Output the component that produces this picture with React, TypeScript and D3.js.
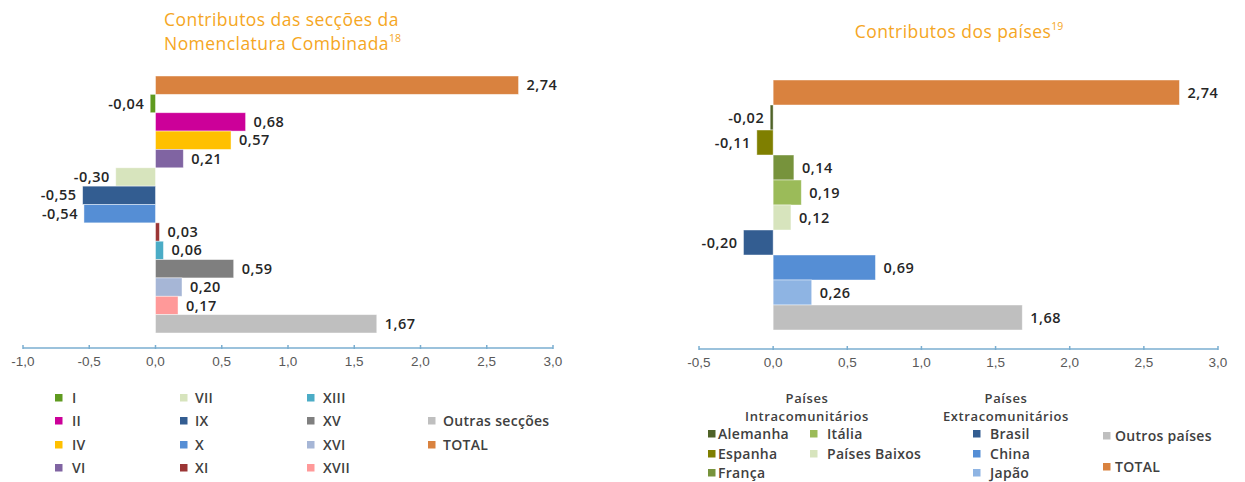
import React from "react";
import * as d3 from "d3";

// ---------- Data ----------
const LEFT_CATEGORIES = ["TOTAL", "I", "II", "IV", "VI", "VII", "IX", "X", "XI", "XIII", "XV", "XVI", "XVII", "Outras secções"];
const LEFT_VALUES = [2.74, -0.04, 0.68, 0.57, 0.21, -0.30, -0.55, -0.54, 0.03, 0.06, 0.59, 0.20, 0.17, 1.67];
const LEFT_COLORS = ["#d9823f", "#5f9a1f", "#cc0099", "#ffc000", "#8064a2", "#d7e4bd", "#335d91", "#558ed5", "#9b3535", "#4bacc6", "#7f7f7f", "#a6b6d6", "#ff9999", "#bfbfbf"];
const LEFT_TICKS = [-1.0, -0.5, 0.0, 0.5, 1.0, 1.5, 2.0, 2.5, 3.0];
// legend columns (names, column-major)
const LEFT_LEGEND_COLS = [
  ["I", "II", "IV", "VI"],
  ["VII", "IX", "X", "XI"],
  ["XIII", "XV", "XVI", "XVII"],
  ["", "Outras secções", "TOTAL", ""],
];

const RIGHT_CATEGORIES = ["TOTAL", "Alemanha", "Espanha", "França", "Itália", "Países Baixos", "Brasil", "China", "Japão", "Outros países"];
const RIGHT_VALUES = [2.74, -0.02, -0.11, 0.14, 0.19, 0.12, -0.20, 0.69, 0.26, 1.68];
const RIGHT_COLORS = ["#d9823f", "#4f6228", "#7f7f00", "#77933c", "#9bbb59", "#d7e4bd", "#335d91", "#558ed5", "#8eb4e3", "#bfbfbf"];
const RIGHT_TICKS = [-0.5, 0.0, 0.5, 1.0, 1.5, 2.0, 2.5, 3.0];
const RIGHT_GROUPS = ["Países Intracomunitários", "Países Extracomunitários"];
const RIGHT_LEGEND_COLS = [
  ["Alemanha", "Espanha", "França"],
  ["Itália", "Países Baixos"],
  ["Brasil", "China", "Japão"],
  ["Outros países", "TOTAL"],
];

const TITLE_LEFT = ["Contributos das secções da", "Nomenclatura Combinada"];
const TITLE_LEFT_SUP = "18";
const TITLE_RIGHT = "Contributos dos países";
const TITLE_RIGHT_SUP = "19";

// ---------- Styles ----------
const W = 1245;
const H = 482;
const TITLE_COLOR = "#f5a623";
const LABEL_COLOR = "#262626";
const LEGEND_COLOR = "#404040";
const AXIS_COLOR = "#7aaed0";
const TICK_COLOR = "#595959";
const LABEL_FONT = "'Open Sans', 'Noto Sans', sans-serif";
const TICK_FONT = "'Liberation Sans', Arial, sans-serif";

const fmtVal = (v: number) => d3.format(".2f")(v).replace("−", "-").replace(".", ",");
const fmtTick = (v: number) => d3.format(".1f")(v).replace("−", "-").replace(".", ",");

type PanelProps = {
  cats: string[];
  values: number[];
  colors: string[];
  ticks: number[];
  xRange: [number, number];
  yRange: [number, number];
  axisY: number;
};

function Panel({ cats, values, colors, ticks, xRange, yRange, axisY }: PanelProps) {
  const x = d3.scaleLinear().domain([ticks[0], ticks[ticks.length - 1]]).range(xRange);
  const y = d3.scaleBand<string>().domain(cats).range(yRange).padding(0);
  const x0 = x(0);
  return (
    <g>
      {cats.map((c, i) => {
        const v = values[i];
        const xa = Math.min(x(v), x0);
        const w = Math.abs(x(v) - x0);
        const yy = y(c)!;
        const bh = y.bandwidth();
        return (
          <g key={c}>
            <rect x={xa} y={yy} width={Math.max(w, 1.5)} height={bh} fill={colors[i]} stroke="#ffffff" strokeOpacity={0.55} strokeWidth={0.8} />
            <text
              x={v >= 0 ? x(v) + 8 : x(v) - 6}
              y={yy + bh / 2}
              dy="0.35em"
              textAnchor={v >= 0 ? "start" : "end"}
              fontFamily={LABEL_FONT}
              fontWeight={600}
              fontSize={14.5}
              letterSpacing={0.5}
              fill={LABEL_COLOR}
            >
              {fmtVal(v)}
            </text>
          </g>
        );
      })}
      <line x1={x(ticks[0])} x2={x(ticks[ticks.length - 1])} y1={axisY} y2={axisY} stroke={AXIS_COLOR} strokeWidth={1.5} />
      {ticks.map((t) => (
        <g key={t}>
          <line x1={x(t)} x2={x(t)} y1={axisY - 3} y2={axisY + 1} stroke={AXIS_COLOR} strokeWidth={1.5} />
          <text x={x(t)} y={axisY + 18} textAnchor="middle" fontFamily={TICK_FONT} fontSize={13.5} fill={TICK_COLOR}>
            {fmtTick(t)}
          </text>
        </g>
      ))}
    </g>
  );
}

function Swatch({ x, y, label, color, textDx }: { x: number; y: number; label: string; color: string; textDx: number }) {
  return (
    <g>
      <rect x={x} y={y - 4} width={7.5} height={7.5} fill={color} />
      <text x={x + textDx} y={y} dy="0.35em" fontFamily={LABEL_FONT} fontWeight={600} fontSize={14} letterSpacing={0.3} fill={LEGEND_COLOR}>
        {label}
      </text>
    </g>
  );
}

export default function App() {
  const leftColor = (name: string) => LEFT_COLORS[LEFT_CATEGORIES.indexOf(name)];
  const rightColor = (name: string) => RIGHT_COLORS[RIGHT_CATEGORIES.indexOf(name)];

  const leftColX = [55, 180, 307, 428];
  const leftRowY = [398, 421, 445, 468];
  const leftTextDx = [17, 15, 16, 15];

  const rightColX = [708, 810, 973, 1103];
  const rightTextDx = [10, 17, 17, 12];
  const rightRowY = [[434, 454, 473], [434, 454], [434, 454, 473], [436, 467]];

  return (
    <svg width={W} height={H} style={{ position: "absolute", left: 0, top: 0, background: "#ffffff" }}>
      {/* Titles */}
      <text x={164} y={26} fontFamily={LABEL_FONT} fontSize={17.5} letterSpacing={0.45} fill={TITLE_COLOR}>
        {TITLE_LEFT[0]}
      </text>
      <text x={164} y={50} fontFamily={LABEL_FONT} fontSize={17.5} letterSpacing={0.45} fill={TITLE_COLOR}>
        {TITLE_LEFT[1]}
        <tspan fontSize={10.5} dy={-8} letterSpacing={0}>{TITLE_LEFT_SUP}</tspan>
      </text>
      <text x={959} y={38} textAnchor="middle" fontFamily={LABEL_FONT} fontSize={17.5} letterSpacing={0.45} fill={TITLE_COLOR}>
        {TITLE_RIGHT}
        <tspan fontSize={10.5} dy={-8} letterSpacing={0}>{TITLE_RIGHT_SUP}</tspan>
      </text>

      <Panel cats={LEFT_CATEGORIES} values={LEFT_VALUES} colors={LEFT_COLORS} ticks={LEFT_TICKS} xRange={[23, 553]} yRange={[76, 333]} axisY={348} />
      <Panel cats={RIGHT_CATEGORIES} values={RIGHT_VALUES} colors={RIGHT_COLORS} ticks={RIGHT_TICKS} xRange={[699, 1218]} yRange={[80, 330]} axisY={349} />

      {/* Left legend */}
      {LEFT_LEGEND_COLS.map((col, ci) =>
        col.map((name, ri) =>
          name ? (
            <Swatch key={name} x={leftColX[ci]} y={leftRowY[ri]} label={name} color={leftColor(name)} textDx={leftTextDx[ci]} />
          ) : null
        )
      )}

      {/* Right legend group headers */}
      {RIGHT_GROUPS.map((g, gi) => {
        const parts = g.split(" ");
        const cx = gi === 0 ? 807 : 1006;
        return (
          <g key={g}>
            <text x={cx} y={398} dy="0.35em" textAnchor="middle" fontFamily={LABEL_FONT} fontWeight={600} fontSize={13} letterSpacing={0.6} fill={LEGEND_COLOR}>
              {parts[0]}
            </text>
            <text x={cx} y={416} dy="0.35em" textAnchor="middle" fontFamily={LABEL_FONT} fontWeight={600} fontSize={13} letterSpacing={0.6} fill={LEGEND_COLOR}>
              {parts[1]}
            </text>
          </g>
        );
      })}
      {RIGHT_LEGEND_COLS.map((col, ci) =>
        col.map((name, ri) => (
          <Swatch key={name + ci} x={rightColX[ci]} y={rightRowY[ci][ri]} label={name} color={rightColor(name)} textDx={rightTextDx[ci]} />
        ))
      )}
    </svg>
  );
}
